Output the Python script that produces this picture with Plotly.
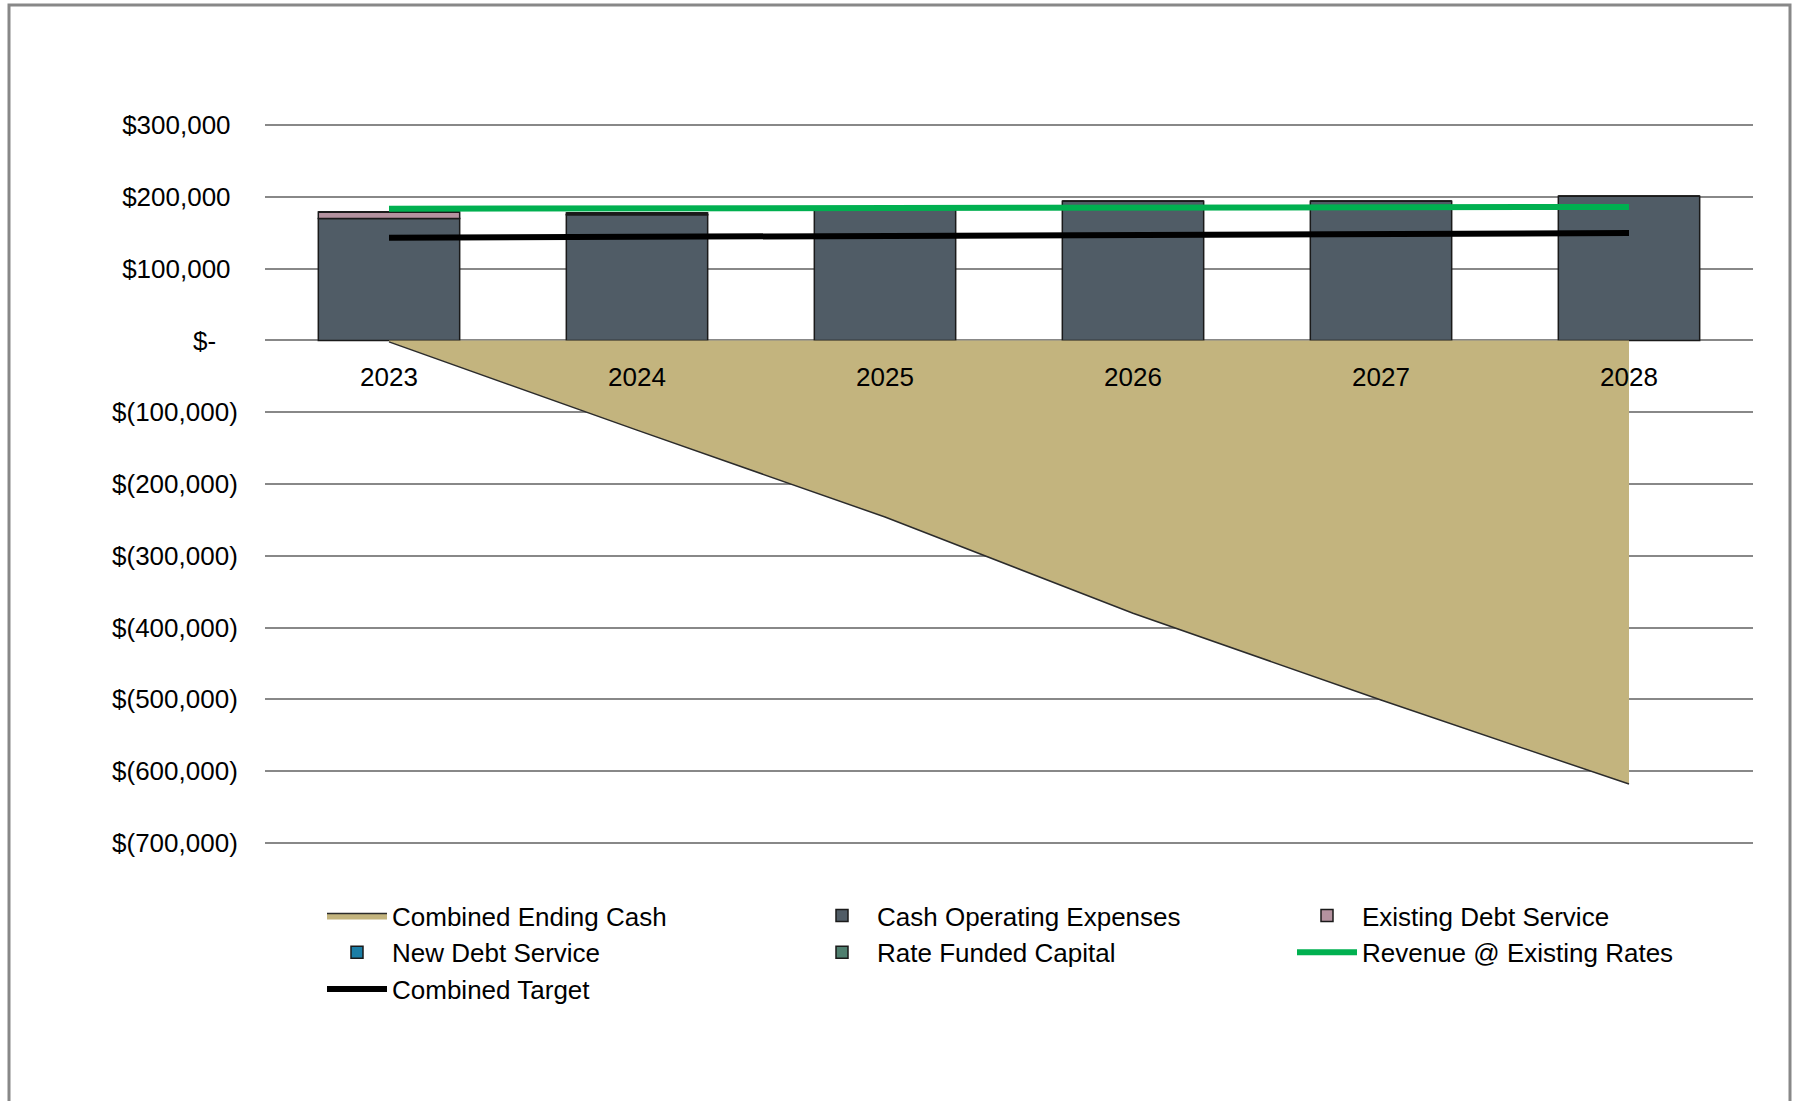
import plotly.graph_objects as go

years = ["2023", "2024", "2025", "2026", "2027", "2028"]
combined_ending_cash = [-2000, -125000, -246000, -380000, -501000, -618000]
cash_operating_expenses = [170000, 175000, 183000, 194000, 194000, 201000]
existing_debt_service = [9000, 2500, 0, 0, 0, 0]
new_debt_service = [0, 0, 0, 0, 0, 0]
rate_funded_capital = [0, 0, 0, 0, 0, 0]
revenue_existing_rates = [183500, 184000, 184500, 185000, 185500, 186000]
combined_target = [143000, 144000, 145500, 147000, 148000, 149500]

y_tickvals = [300000, 200000, 100000, 0, -100000, -200000, -300000, -400000, -500000, -600000, -700000]
y_ticktext = ["$300,000\u00a0", "$200,000\u00a0", "$100,000\u00a0", "$-\u00a0\u00a0\u00a0",
              "$(100,000)", "$(200,000)", "$(300,000)", "$(400,000)",
              "$(500,000)", "$(600,000)", "$(700,000)"]

FONT = "Liberation Sans, Arial, sans-serif"
bar_line = dict(color="#1a1a1a", width=1.5)

fig = go.Figure()
fig.add_trace(go.Scatter(x=years, y=combined_ending_cash, name="Combined Ending Cash",
                         mode="lines", fill="tozeroy", fillcolor="#c3b47e",
                         line=dict(color="#2b2b2b", width=1.5)))
fig.add_trace(go.Bar(x=years, y=cash_operating_expenses, name="Cash Operating Expenses",
                     marker=dict(color="#505c66", line=bar_line)))
fig.add_trace(go.Bar(x=years, y=existing_debt_service, name="Existing Debt Service",
                     marker=dict(color="#b4929f", line=bar_line)))
fig.add_trace(go.Bar(x=years, y=new_debt_service, name="New Debt Service",
                     marker=dict(color="#1b7ea6", line=bar_line)))
fig.add_trace(go.Bar(x=years, y=rate_funded_capital, name="Rate Funded Capital",
                     marker=dict(color="#4f7f6f", line=bar_line)))
fig.add_trace(go.Scatter(x=years, y=revenue_existing_rates, name="Revenue @ Existing Rates",
                         mode="lines", line=dict(color="#00b050", width=6)))
fig.add_trace(go.Scatter(x=years, y=combined_target, name="Combined Target",
                         mode="lines", line=dict(color="#000000", width=6)))

W, H = 1799, 1101
ml, mr, mt, mb = 265, 46, 124, 257
pw, ph = W - ml - mr, H - mt - mb

def px(xp):
    return (xp - ml) / pw

def py(yp):
    return (H - mb - yp) / ph

fig.update_layout(
    width=W, height=H,
    margin=dict(l=ml, r=mr, t=mt, b=mb, pad=0),
    paper_bgcolor="white", plot_bgcolor="white",
    barmode="relative", bargap=0.43,
    font=dict(family=FONT, size=26, color="#000000"),
    showlegend=True,
    legend=dict(orientation="h", x=px(322), y=py(892), xanchor="left", yanchor="top",
                entrywidth=410, entrywidthmode="pixels", itemwidth=60,
                font=dict(family=FONT, size=26, color="#000000"),
                traceorder="normal", tracegroupgap=0, itemclick=False),
    xaxis=dict(type="category", range=[-0.5, 5.5], showgrid=False, showline=False,
               zeroline=False, anchor="free", position=0.7,
               ticks="outside", ticklen=14, tickcolor="rgba(0,0,0,0)",
               tickfont=dict(family=FONT, size=26, color="#000000")),
    yaxis=dict(range=[-701500, 301500], tickvals=y_tickvals, ticktext=y_ticktext,
               showgrid=True, gridcolor="#888888", gridwidth=2,
               zeroline=True, zerolinecolor="#888888", zerolinewidth=2,
               showline=False, ticks="outside", ticklen=21, tickcolor="rgba(0,0,0,0)",
               tickfont=dict(family=FONT, size=26, color="#000000")),
    shapes=[dict(type="rect", xref="paper", yref="paper",
                 x0=px(9), x1=px(1790), y0=py(1115), y1=py(5),
                 line=dict(color="#888888", width=3), fillcolor="rgba(0,0,0,0)", layer="below")],
)

fig.write_html("out.html")
